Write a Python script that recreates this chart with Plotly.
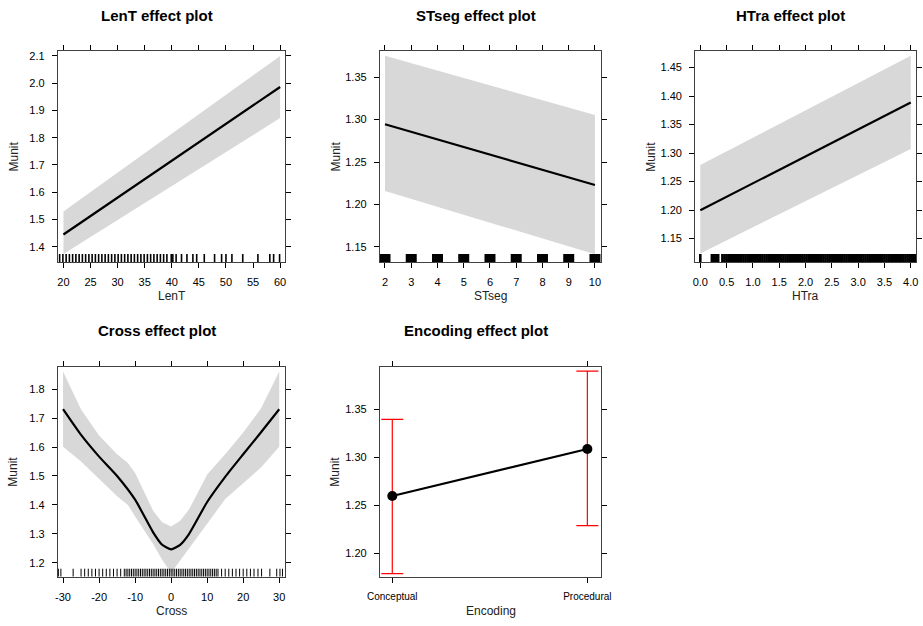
import plotly.graph_objects as go

# ---------------- data ----------------
# LenT effect
lent_x = [20, 60]
lent_fit = [1.445, 1.986]
lent_lower = [1.373, 1.872]
lent_upper = [1.529, 2.100]
lent_rug = [19.3, 19.9, 20.5, 21.1, 21.7, 22.3, 22.9, 23.5, 24.1, 24.7, 25.3, 25.9,
            26.5, 27.1, 27.7, 28.3, 28.9, 29.5, 30.1, 30.7, 31.3, 31.9, 32.5, 33.1,
            33.7, 34.3, 34.9, 35.5, 36.1, 36.7, 37.3, 37.9, 38.5, 39.1, 39.9, 40.2,
            40.8, 41.8, 42.8, 43.9, 44.6, 46.0, 47.9, 49.2, 50.0, 51.1, 53.1, 55.9,
            58.1, 58.8, 59.9]

# STseg effect
stseg_x = [2, 10]
stseg_fit = [1.2945, 1.2228]
stseg_lower = [1.2158, 1.141]
stseg_upper = [1.3755, 1.3055]
stseg_rug = [2, 3, 4, 5, 6, 7, 8, 9, 10]

# HTra effect
htra_x = [0.0, 4.0]
htra_fit = [1.1998, 1.3886]
htra_lower = [1.124, 1.307]
htra_upper = [1.279, 1.4705]
htra_rug = [0.0, 0.22, 0.26, 0.30, 0.34, 0.42, 0.46, 0.50, 0.54, 0.58, 0.62, 0.66,
            0.70, 0.74, 0.78, 0.82, 0.86, 0.90, 0.94, 0.98, 1.02, 1.06, 1.10, 1.14,
            1.18, 1.22, 1.26, 1.30, 1.34, 1.38, 1.42, 1.46, 1.50, 1.54, 1.58, 1.62,
            1.66, 1.70, 1.74, 1.78, 1.82, 1.86, 1.90, 1.94, 1.98, 2.02, 2.06, 2.10,
            2.14, 2.18, 2.22, 2.26, 2.30, 2.34, 2.38, 2.42, 2.46, 2.50, 2.54, 2.58,
            2.62, 2.66, 2.70, 2.74, 2.78, 2.82, 2.86, 2.90, 2.94, 2.98, 3.02, 3.06,
            3.10, 3.14, 3.18, 3.22, 3.26, 3.30, 3.34, 3.38, 3.42, 3.46, 3.50, 3.54,
            3.58, 3.62, 3.66, 3.70, 3.74, 3.78, 3.82, 3.86, 3.90, 3.94, 3.98, 4.02,
            4.06, 4.08]

# Cross effect
cross_fit_x = [-30, -25, -20, -15, -10, -5, -2.5, 0, 2.5, 5, 10, 15, 20, 25, 30]
cross_fit = [1.731, 1.642, 1.567, 1.500, 1.418, 1.305, 1.262, 1.246, 1.262,
             1.300, 1.410, 1.497, 1.575, 1.652, 1.731]
cross_band_x = [-30, -25, -20, -15, -12, -10, -5, -2.5, 0, 2.5, 5, 10, 15, 20, 25, 30]
cross_lower = [1.601, 1.550, 1.490, 1.430, 1.400, 1.360, 1.265, 1.210, 1.165, 1.205,
               1.250, 1.335, 1.420, 1.475, 1.530, 1.601]
cross_upper = [1.861, 1.730, 1.640, 1.575, 1.545, 1.510, 1.380, 1.340, 1.325, 1.345,
               1.385, 1.505, 1.575, 1.650, 1.735, 1.861]
cross_rug = [-31.3, -30.6, -27.2, -25, -24, -23, -22, -21, -20, -19, -18, -17, -16,
             -15, -14, -13, -12.5, -12, -11.5, -11, -10.5, -10, -9.5, -9, -8.5, -8,
             -7.5, -7, -6.5, -6, -5.5, -5, -4.5, -4, -3.5, -3, -2.5, -2, -1.5, -1,
             -0.5, 0, 0.5, 1, 1.5, 2, 2.5, 3, 3.5, 4, 4.5, 5, 5.5, 6, 6.5, 7, 7.5,
             8, 8.5, 9, 9.5, 10, 10.5, 11, 11.5, 12, 12.5, 13, 14, 15, 16, 17, 18,
             19, 20, 21, 22, 23, 24.1, 25.1, 27.4, 29.3, 30.2, 30.9]
cross_ticks = [-30, -20, -10, 0, 10, 20, 30]
cross_ticktext = ["-30", "-20", "-10", "0", "10", "20", "30"]

# Encoding effect
enc_levels = ["Conceptual", "Procedural"]
enc_fit = [1.2596, 1.3084]
enc_lower = [1.179, 1.2287]
enc_upper = [1.3393, 1.3895]

# ---------------- layout helpers ----------------
W, H = 923, 626
FONT = "Liberation Sans, Arial, sans-serif"
BAND = "#d8d8d8"
BOX = "#404040"

cols = [(58, 285), (380, 601), (695.3, 916)]
rows = [(51, 262), (366.7, 576.7)]

def xdom(c):
    return [c[0] / W, c[1] / W]

def ydom(r):
    return [1 - r[1] / H, 1 - r[0] / H]

panels = [
    dict(name="LenT", col=cols[0], row=rows[0], xr=[19.0, 60.9], yr=[1.344, 2.118]),
    dict(name="STseg", col=cols[1], row=rows[0], xr=[1.81, 10.23], yr=[1.132, 1.381]),
    dict(name="HTra", col=cols[2], row=rows[0], xr=[-0.095, 4.10], yr=[1.109, 1.479]),
    dict(name="Cross", col=cols[0], row=rows[1], xr=[-31.4, 31.6], yr=[1.1516, 1.878]),
    dict(name="Encoding", col=cols[1], row=rows[1], xr=[-0.063, 1.07], yr=[1.1757, 1.394]),
]

fig = go.Figure()

def band_trace(x, lo, hi, i):
    ax = "" if i == 1 else str(i)
    return go.Scatter(x=list(x) + list(x)[::-1], y=list(hi) + list(lo)[::-1],
                      fill="toself", fillcolor=BAND, line=dict(width=0),
                      mode="lines", hoverinfo="skip", showlegend=False,
                      xaxis="x" + ax, yaxis="y" + ax)

def fit_trace(x, y, i, shape="linear"):
    ax = "" if i == 1 else str(i)
    return go.Scatter(x=x, y=y, mode="lines",
                      line=dict(color="black", width=2.2, shape=shape, smoothing=0.5),
                      showlegend=False, xaxis="x" + ax, yaxis="y" + ax)

def rug_trace(vals, yr, width, i):
    ax = "" if i == 1 else str(i)
    y0 = yr[0]
    y1 = yr[0] + 0.038 * (yr[1] - yr[0])
    xs, ys = [], []
    for v in vals:
        xs += [v, v, None]
        ys += [y0, y1, None]
    return go.Scatter(x=xs, y=ys, mode="lines", line=dict(color="black", width=width),
                      hoverinfo="skip", showlegend=False, xaxis="x" + ax, yaxis="y" + ax)

# panel 1
fig.add_trace(band_trace(lent_x, lent_lower, lent_upper, 1))
fig.add_trace(fit_trace(lent_x, lent_fit, 1))
fig.add_trace(rug_trace(lent_rug, panels[0]["yr"], 1.6, 1))
# panel 2
fig.add_trace(band_trace(stseg_x, stseg_lower, stseg_upper, 2))
fig.add_trace(fit_trace(stseg_x, stseg_fit, 2))
fig.add_trace(rug_trace(stseg_rug, panels[1]["yr"], 11, 2))
# panel 3
fig.add_trace(band_trace(htra_x, htra_lower, htra_upper, 3))
fig.add_trace(fit_trace(htra_x, htra_fit, 3))
fig.add_trace(rug_trace(htra_rug, panels[2]["yr"], 2.6, 3))
# panel 4
fig.add_trace(band_trace(cross_band_x, cross_lower, cross_upper, 4))
fig.add_trace(fit_trace(cross_fit_x, cross_fit, 4, shape="spline"))
fig.add_trace(rug_trace(cross_rug, panels[3]["yr"], 1, 4))
# panel 5
fig.add_trace(go.Scatter(
    x=enc_levels, y=enc_fit, mode="lines+markers",
    line=dict(color="black", width=2.2),
    marker=dict(color="black", size=10),
    error_y=dict(type="data", symmetric=False,
                 array=[u - f for u, f in zip(enc_upper, enc_fit)],
                 arrayminus=[f - l for f, l in zip(enc_fit, enc_lower)],
                 color="red", thickness=1.2, width=11),
    showlegend=False, xaxis="x5", yaxis="y5"))

axis_common = dict(showgrid=False, zeroline=False, showline=True, linecolor=BOX,
                   linewidth=1.3, mirror="ticks", ticks="outside", ticklen=5,
                   tickcolor="black", tickwidth=1, automargin=False,
                   tickfont=dict(family=FONT, size=11, color="black"))

xt = {
    1: dict(tickmode="linear", tick0=20, dtick=5),
    2: dict(tickmode="linear", tick0=2, dtick=1),
    3: dict(tickmode="linear", tick0=0, dtick=0.5, tickformat=".1f"),
    4: dict(tickmode="array", tickvals=cross_ticks, ticktext=cross_ticktext),
    5: dict(type="category", tickfont=dict(family=FONT, size=10, color="black")),
}
yt = {
    1: dict(tickmode="linear", tick0=1.4, dtick=0.1, tickformat=".1f"),
    2: dict(tickmode="linear", tick0=1.15, dtick=0.05, tickformat=".2f"),
    3: dict(tickmode="linear", tick0=1.15, dtick=0.05, tickformat=".2f"),
    4: dict(tickmode="linear", tick0=1.2, dtick=0.1, tickformat=".1f"),
    5: dict(tickmode="linear", tick0=1.2, dtick=0.05, tickformat=".2f"),
}

layout = dict(width=W, height=H, autosize=False, margin=dict(l=0, r=0, t=0, b=0, pad=0),
              paper_bgcolor="white", plot_bgcolor="white", showlegend=False,
              font=dict(family=FONT, color="black"))
annotations = []
for i, p in enumerate(panels, start=1):
    xa = dict(axis_common)
    xa.update(domain=xdom(p["col"]), range=p["xr"], anchor="y" + ("" if i == 1 else str(i)),
              ticklabelstandoff=5)
    xa.update(xt[i])
    ya = dict(axis_common)
    ya.update(domain=ydom(p["row"]), range=p["yr"], anchor="x" + ("" if i == 1 else str(i)),
              ticklabelstandoff=5)
    ya.update(yt[i])
    layout["xaxis" + ("" if i == 1 else str(i))] = xa
    layout["yaxis" + ("" if i == 1 else str(i))] = ya

    c0, c1 = p["col"]
    r0, r1 = p["row"]
    # panel title
    annotations.append(dict(text="<b>%s effect plot</b>" % p["name"], xref="paper", yref="paper",
                            x=((c0 + c1) / 2 - 15) / W, y=1 - (r0 - 36) / H,
                            xanchor="center", yanchor="middle", showarrow=False,
                            font=dict(family=FONT, size=15, color="black")))
    # x axis title
    annotations.append(dict(text=p["name"], xref="paper", yref="paper",
                            x=((c0 + c1) / 2) / W, y=1 - (r1 + 34) / H,
                            xanchor="center", yanchor="middle", showarrow=False,
                            font=dict(family=FONT, size=12, color="#222")))
    # y axis title
    annotations.append(dict(text="Munit", xref="paper", yref="paper",
                            x=(c0 - 45) / W, y=1 - ((r0 + r1) / 2) / H, textangle=-90,
                            xanchor="center", yanchor="middle", showarrow=False,
                            font=dict(family=FONT, size=12, color="#222")))
layout["annotations"] = annotations
fig.update_layout(**layout)

fig.write_html("out.html", config={"displayModeBar": False, "responsive": False},
               post_script="document.body.style.margin='0';")
